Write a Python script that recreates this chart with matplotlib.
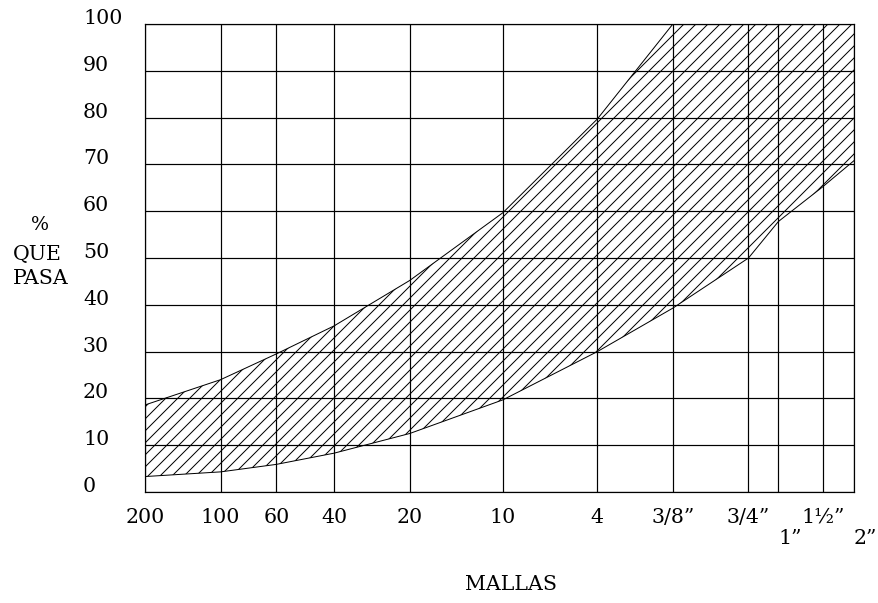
import numpy as np
import matplotlib.pyplot as plt

# sieve openings (mm) and labels of the grading chart
sieve_mm = [0.075, 0.15, 0.25, 0.425, 0.85, 2.0, 4.75, 9.5, 19.0]
sieve_labels = ['200', '100', '60', '40', '20', '10', '4', '3/8”', '3/4”']
# second row labels (lower line under the axis)
sieve_mm_2 = [25.0, 50.0]
sieve_labels_2 = ['1”', '2”']
sieve_mm_15 = [37.5]
sieve_labels_15 = ['1½”']

# band limits (% passing) at every sieve, left to right
band_mm = [0.075, 0.15, 0.25, 0.425, 0.85, 2.0, 4.75, 9.5, 19.0, 25.0, 37.5, 50.0]
upper_pct = [18.6, 24.0, 29.5, 35.5, 45.2, 59.7, 79.7, 100, 100, 100, 100, 100]
lower_pct = [3.3, 4.3, 5.9, 8.3, 12.5, 19.7, 30.0, 39.3, 50.0, 57.8, 65.2, 70.8]

y_ticks = list(range(0, 101, 10))

W, H, DPI = 878, 603, 72
FS = 20.5
plt.rcParams['font.family'] = ['DejaVu Serif']
plt.rcParams['hatch.linewidth'] = 1.0
plt.rcParams['hatch.color'] = 'black'

fig = plt.figure(figsize=(W / DPI, H / DPI), dpi=DPI)
ax = fig.add_axes([145 / W, 1 - 492 / H, (854 - 145) / W, (492 - 24) / H])
ax.set_xscale('log')
ax.set_xlim(band_mm[0], band_mm[-1])
ax.set_ylim(0, 100)

# hatched band between the limits
ax.fill_between(band_mm, lower_pct, upper_pct, facecolor='none',
                edgecolor='black', hatch='//', linewidth=0)
ax.plot(band_mm, upper_pct, color='black', lw=1.0)
ax.plot(band_mm, lower_pct, color='black', lw=1.0)

# x ticks: first row as major, 1" and 2" one row lower as minor
ax.set_xticks(sieve_mm + sieve_mm_15, sieve_labels + sieve_labels_15)
ax.set_xticks(sieve_mm_2, sieve_labels_2, minor=True)
for lbl in ax.get_xticklabels(minor=True):
    lbl.set_ha('left')
ax.tick_params(axis='x', which='major', length=0, pad=16, labelsize=FS)
ax.tick_params(axis='x', which='minor', length=0, pad=37, labelsize=FS)

ax.set_yticks(y_ticks, [str(v) for v in y_ticks], ha='left', va='baseline')
ax.tick_params(axis='y', length=0, pad=62, labelsize=FS)

ax.grid(True, which='both', color='black', lw=1.2)
for s in ax.spines.values():
    s.set_linewidth(1.2)
    s.set_color('black')

fig.text(40 / W, 1 - 225 / H, '%', ha='center', va='center', fontsize=19)
fig.text(13 / W, 1 - 254 / H, 'QUE', ha='left', va='center', fontsize=FS)
fig.text(13 / W, 1 - 279 / H, 'PASA', ha='left', va='center', fontsize=FS)
fig.text(511 / W, 1 - 585 / H, 'MALLAS', ha='center', va='center', fontsize=FS)

fig.savefig('out.png', dpi=DPI)
